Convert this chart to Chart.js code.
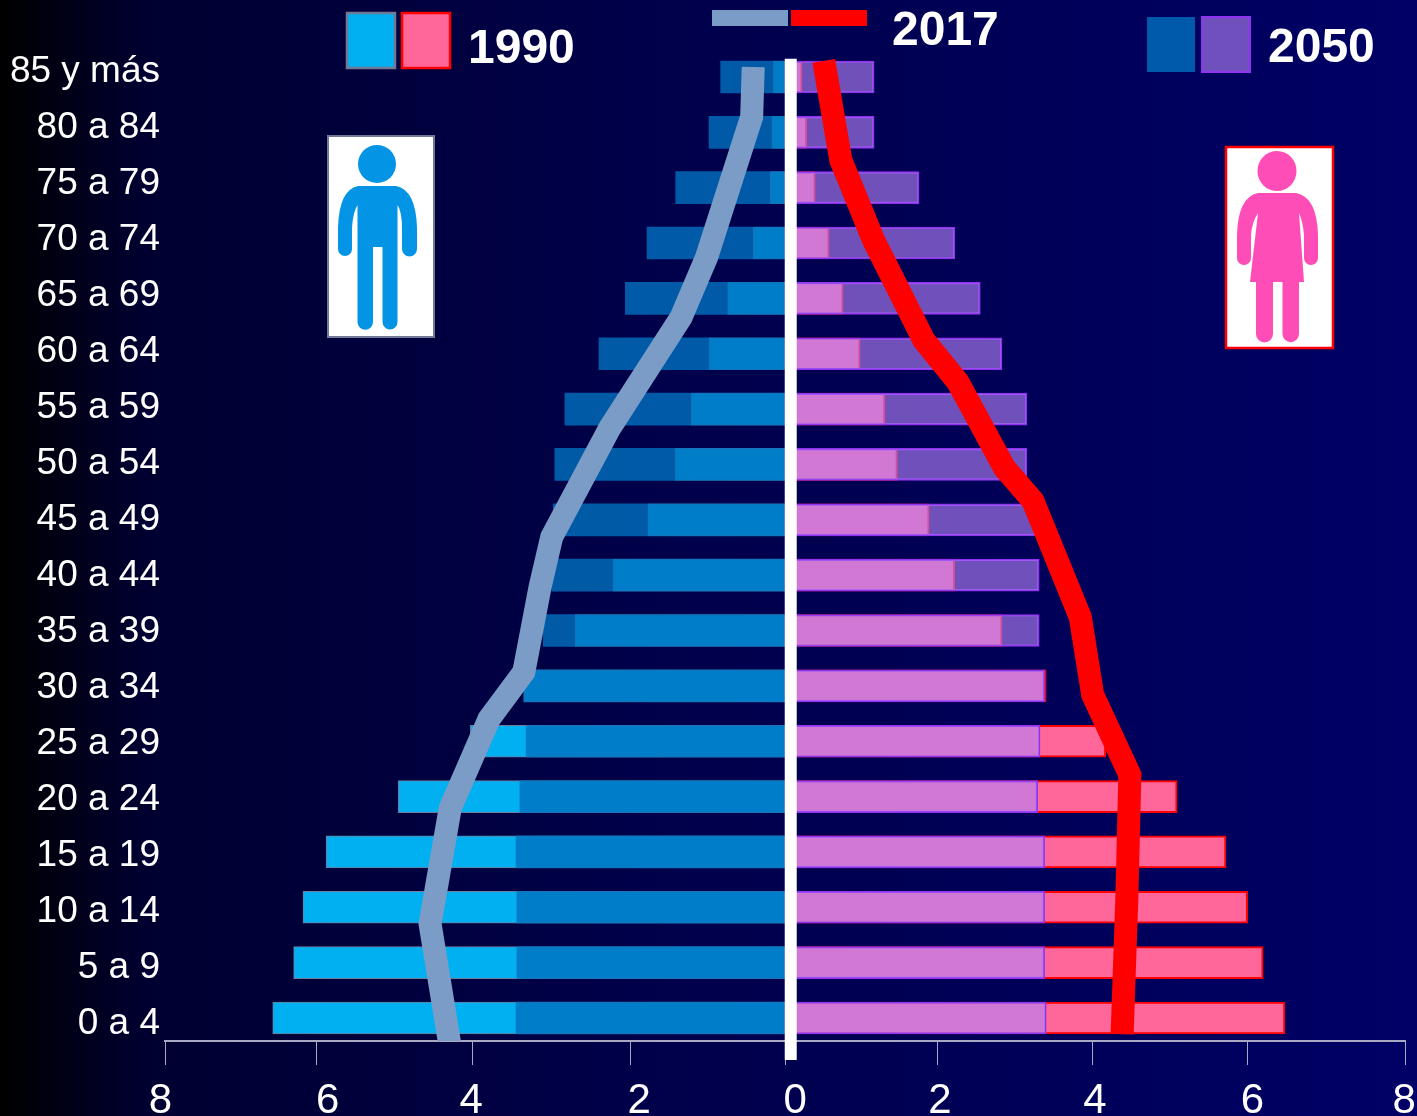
<!DOCTYPE html>
<html>
<head>
<meta charset="utf-8">
<title>Pirámide de población</title>
<script src="https://cdn.jsdelivr.net/npm/chart.js@4/dist/chart.umd.min.js"></script>
<style>
  html, body { margin: 0; padding: 0; }
  body {
    width: 1417px; height: 1116px; overflow: hidden; position: relative;
    background: linear-gradient(90deg, #000000 0%, #000030 10%, #00004a 45%, #000066 100%);
    font-family: "Liberation Sans", Arial, sans-serif;
  }
  canvas { position: absolute; left: 0; top: 0; }
  svg { position: absolute; left: 0; top: 0; }
  svg text { font: bold 48px "Liberation Sans", Arial, sans-serif; fill: #fff; }
</style>
</head>
<body>
<canvas id="pyramid" width="1417" height="1116"></canvas>
<svg width="1417" height="1116" viewBox="0 0 1417 1116">
  <!-- legend -->
  <rect x="347" y="13" width="48" height="55" fill="#00b0f0" stroke="#707a96" stroke-width="2.5"/>
  <rect x="402" y="13" width="48" height="55" fill="#ff6699" stroke="#ff0000" stroke-width="2.5"/>
  <text x="468" y="63">1990</text>
  <rect x="712" y="10" width="76" height="16" fill="#7a9cc6"/>
  <rect x="791" y="10" width="76" height="16" fill="#ff0000"/>
  <text x="892" y="45">2017</text>
  <rect x="1147" y="17" width="48" height="55" fill="#005aac"/>
  <rect x="1202" y="17" width="48" height="55" fill="#7050bc" stroke="#9033f0" stroke-width="2"/>
  <text x="1268" y="62">2050</text>
  <!-- man -->
  <rect x="328" y="136" width="106" height="201" fill="#fff" stroke="#707a96" stroke-width="2"/>
  <circle cx="377" cy="164" r="19" fill="#0494e6"/>
  <path fill="#0494e6" d="M358 186 H396 Q416 190 417 228 L417 249 A7.5 7.5 0 0 1 402 249 L402 228 Q402 212 397.5 205 L397.5 322 A7.5 7.5 0 0 1 382.5 322 L382.5 247 L373 247 L373 322 A7.7 7.7 0 0 1 357.5 322 L357.5 205 Q353 212 352 228 L352 249 A7 7 0 0 1 338 249 L338 228 Q339 190 358 186 Z"/>
  <!-- woman -->
  <rect x="1226" y="147" width="107" height="201" fill="#fff" stroke="#ff0000" stroke-width="2.5"/>
  <ellipse cx="1277" cy="171" rx="19.5" ry="20" fill="#ff4db8"/>
  <path fill="#ff4db8" d="M1258 193 H1296 Q1317 197 1318 235 L1318 258 A7 7 0 0 1 1304 258 L1304 235 Q1303 222 1299 213 L1304 282 L1299 282 L1299 334 A8.2 8.2 0 0 1 1282.5 334 L1282.5 282 L1273 282 L1273 334 A8.5 8.5 0 0 1 1256 334 L1256 282 L1250 282 L1258 213 Q1252 222 1251 235 L1251 258 A7 7 0 0 1 1237 258 L1237 235 Q1238 197 1258 193 Z"/>
</svg>
<script>
// age groups, bottom of the pyramid first
const ages = ["0 a 4", "5 a 9", "10 a 14", "15 a 19", "20 a 24", "25 a 29", "30 a 34", "35 a 39", "40 a 44",
  "45 a 49", "50 a 54", "55 a 59", "60 a 64", "65 a 69", "70 a 74", "75 a 79", "80 a 84", "85 y más"];

const male1990 = [6.61, 6.34, 6.22, 5.92, 4.99, 4.06, 3.37, 2.71, 2.22, 1.77, 1.42, 1.21, 0.98, 0.74, 0.41, 0.19, 0.17, 0.15];
const male2050 = [3.47, 3.46, 3.46, 3.47, 3.42, 3.34, 3.37, 3.12, 3.01, 2.99, 2.97, 2.84, 2.40, 2.06, 1.78, 1.41, 0.98, 0.83];
const female1990 = [6.45, 6.17, 5.97, 5.69, 5.06, 4.14, 3.37, 2.80, 2.19, 1.86, 1.45, 1.29, 0.97, 0.75, 0.57, 0.39, 0.28, 0.22];
const female2050 = [3.37, 3.35, 3.35, 3.35, 3.26, 3.29, 3.35, 3.28, 3.28, 3.23, 3.12, 3.12, 2.80, 2.52, 2.19, 1.73, 1.15, 1.15];

// 2017 curves: value and position along the age axis (in age groups)
const male2017 = [4.32, 4.58, 4.32, 3.82, 3.37, 3.16, 3.01, 2.26, 1.34, 1.01, 0.43, 0.41];
const male2017Age = [-0.52, 1.70, 3.79, 5.40, 6.25, 7.79, 8.69, 10.66, 12.66, 13.75, 16.28, 17.18];
const female2017 = [4.35, 4.41, 4.45, 3.97, 3.81, 3.20, 2.83, 2.23, 1.79, 1.14, 0.72, 0.50];
const female2017Age = [-0.29, 2.13, 4.39, 5.84, 7.24, 9.34, 9.94, 11.49, 12.25, 14.06, 15.50, 17.29];

// x axis: where the tick marks sit and where their labels sit
const xTickLabels = [8, 6, 4, 2, 0, 2, 4, 6, 8];
const xTickMarks = [-8, -6.05, -4.03, -2, 0, 1.97, 3.97, 5.97, 8];
const xLabelMarks = [-8.06, -5.9, -4.05, -1.88, 0.13, 2, 4, 6.03, 7.99];

// white divider between the two halves
const dividerValue = [0.074, 0.074];
const dividerAge = [-0.76, 17.33];

const toBars = (vals, sign) => vals.map((v, i) => ({ x: sign * v, y: i }));
const toLine = (vals, pos, sign) => vals.map((v, i) => ({ x: sign * v, y: pos[i] }));
const setTicks = (vals) => (scale) => { scale.ticks = vals.map((v) => ({ value: v })); };

function bar(label, data, color, border, borderWidth, order) {
  return {
    type: "bar", label, data, order,
    xAxisID: "x", yAxisID: "y",
    backgroundColor: color, borderColor: border, borderWidth,
    borderSkipped: false, barThickness: 32, grouped: false,
  };
}
function line(label, data, color, width, order, clip) {
  return {
    type: "line", label, data, order, clip,
    xAxisID: "x", yAxisID: "y", indexAxis: "y",
    borderColor: color, borderWidth: width, borderCapStyle: "butt", borderJoinStyle: "miter",
    pointRadius: 0, tension: 0, fill: false,
  };
}

new Chart(document.getElementById("pyramid").getContext("2d"), {
  data: {
    datasets: [
      bar("Hombres 1990", toBars(male1990, -1), "#00b0f0", "#6f7c9c", 1, 4),
      bar("Mujeres 1990", toBars(female1990, 1), "#ff6699", "#ff0000", 2, 4),
      bar("Hombres 2050", toBars(male2050, -1), "rgba(0,112,190,0.8)", "rgba(0,0,0,0)", 0, 3),
      bar("Mujeres 2050", toBars(female2050, 1), "rgba(181,129,248,0.62)", "#9033f0", 1.5, 3),
      line("Hombres 2017", toLine(male2017, male2017Age, -1), "#7a9cc6", 23, 2),
      line("Mujeres 2017", toLine(female2017, female2017Age, 1), "#ff0000", 23, 2),
      line("Eje", toLine(dividerValue, dividerAge, 1), "#ffffff", 12, 1, false),
    ],
  },
  options: {
    indexAxis: "y",
    responsive: false,
    animation: false,
    layout: { padding: { top: 5, right: 12 } },
    plugins: { legend: { display: false }, tooltip: { enabled: false } },
    scales: {
      // bars and lines
      y: { type: "linear", display: false, offset: false, min: -0.4155, max: 18.3 },
      // age labels, spaced a little wider than the bars
      yL: {
        type: "linear", position: "left", min: -0.304, max: 18.196,
        grid: { display: false, drawTicks: false }, border: { display: false },
        afterBuildTicks: setTicks(ages.map((_, i) => i)),
        afterFit: (s) => { s.width = 165; s.paddingTop = 0; s.paddingBottom = 0; },
        ticks: {
          autoSkip: false, padding: 5, color: "#ffffff",
          font: { family: "Liberation Sans", size: 37 },
          callback: (v) => ages[v],
        },
      },
      x: {
        type: "linear", position: "bottom", weight: 0, min: -8, max: 8,
        border: { color: "#a9a9c4", width: 2 },
        grid: { drawOnChartArea: false, tickLength: 24, color: "#a9a9c4", tickWidth: 1 },
        afterBuildTicks: setTicks(xTickMarks),
        afterFit: (s) => { s.height = 24; s.paddingLeft = 0; s.paddingRight = 0; },
        ticks: { display: false },
      },
      xL: {
        type: "linear", position: "bottom", weight: 1, min: -8, max: 8,
        border: { display: false },
        grid: { display: false, drawTicks: false },
        afterBuildTicks: setTicks(xLabelMarks),
        afterFit: (s) => { s.height = 51; s.paddingLeft = 0; s.paddingRight = 0; },
        ticks: {
          autoSkip: false, maxRotation: 0, padding: 11, color: "#ffffff",
          font: { family: "Liberation Sans", size: 42 },
          callback: (v, i) => xTickLabels[i],
        },
      },
    },
  },
});
</script>
</body>
</html>
